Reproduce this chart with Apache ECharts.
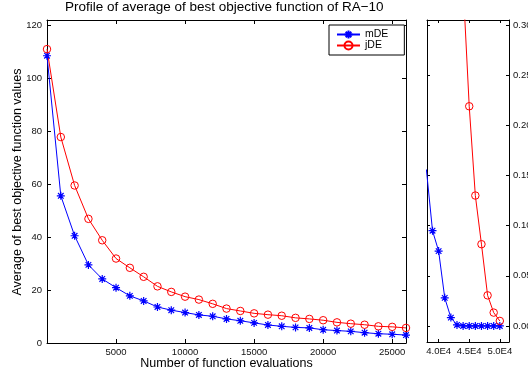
<!DOCTYPE html>
<html><head><meta charset="utf-8">
<script src="https://cdn.jsdelivr.net/npm/echarts@6/dist/echarts.min.js"></script>
<style>html,body{margin:0;padding:0;background:#fff}#c{width:528px;height:376px}</style>
</head><body><div id="c"></div>
<script>
const titleText = 'Profile of average of best objective function of RA\u221210';
const xName = 'Number of function evaluations';
const yName = 'Average of best objective function values';
const seriesNames = ['mDE', 'jDE'];

const leftEvals = [0, 1000, 2000, 3000, 4000, 5000, 6000, 7000, 8000, 9000, 10000, 11000, 12000, 13000,
  14000, 15000, 16000, 17000, 18000, 19000, 20000, 21000, 22000, 23000, 24000, 25000, 26000];
const mdeLeft = [108.5, 55.6, 40.5, 29.5, 24.2, 20.9, 17.8, 15.9, 13.6, 12.4, 11.5, 10.6, 10.1, 9.1,
  8.4, 7.6, 6.8, 6.3, 5.9, 5.7, 5.0, 4.7, 4.4, 3.9, 3.5, 3.3, 3.0];
const jdeLeft = [111, 77.8, 59.5, 46.9, 38.8, 31.9, 28.4, 25.0, 21.4, 19.3, 17.5, 16.4, 14.8, 13.0,
  12.1, 11.2, 10.7, 10.3, 9.5, 9.1, 8.6, 7.8, 7.3, 6.9, 6.3, 6.1, 5.7];

const rightEvals = [38000, 39000, 40000, 41000, 42000, 43000, 44000, 45000, 46000, 47000, 48000, 49000, 50000];
const mdeRight = [0.156, 0.095, 0.0746, 0.028, 0.0083, 0.001, 0, 0, 0, 0, 0, 0, 0];
const jdeRight = [null, null, null, null, null, null, 0.34, 0.219, 0.130, 0.0815, 0.0305, 0.0133, 0.005];

const leftXTicks = [5000, 10000, 15000, 20000, 25000];
const leftYTicks = [0, 20, 40, 60, 80, 100, 120];
const rightXTicks = [40000, 45000, 50000];
const rightYTicks = [0, 0.05, 0.10, 0.15, 0.20, 0.25, 0.30];

const FONT = 'Liberation Sans, Arial, sans-serif';
const starPath = 'path://M0,-10L0,10M-10,0L10,0M-7,-7L7,7M-7,7L7,-7';
const BLUE = '#0000ff', RED = '#ff0000';

function pairs(xs, ys) { return xs.map((x, i) => [x, ys[i]]); }

function axisBase(extra) {
  return Object.assign({
    type: 'value',
    splitLine: { show: false },
    axisLine: { show: true, onZero: false, lineStyle: { color: '#000', width: 1 } },
    axisTick: { show: true, inside: true, length: 4, lineStyle: { color: '#000', width: 1 } },
    axisLabel: { show: false },
  }, extra);
}
function ticks(vals, len) {
  return { show: true, inside: true, length: len, customValues: vals, lineStyle: { color: '#000', width: 1 } };
}
function labels(vals, fmt, margin) {
  return { show: true, customValues: vals, formatter: fmt, color: '#111', fontFamily: FONT, fontSize: 9.5, margin: margin };
}

const LX = [0, 26000], LY = [0, 122], RX = [38100, 51500], RY = [-0.016, 0.305];

const blueStyle = {
  symbol: starPath, symbolSize: 8, showAllSymbol: true, clip: true,
  lineStyle: { color: BLUE, width: 1 }, itemStyle: { color: BLUE, borderColor: BLUE, borderWidth: 1.2 }
};
const redStyle = {
  symbol: 'circle', symbolSize: 7.5, showAllSymbol: true, clip: true,
  lineStyle: { color: RED, width: 1 }, itemStyle: { color: 'rgba(255,0,0,0)', borderColor: RED, borderWidth: 1 }
};

const option = {
  animation: false,
  backgroundColor: '#fff',
  title: {
    text: titleText, left: 65, top: 0, padding: 0,
    textStyle: { fontFamily: FONT, fontSize: 13.5, fontWeight: 'normal', color: '#000' }
  },
  legend: {
    data: seriesNames,
    orient: 'vertical', left: 329, top: 25,
    padding: [4, 16, 4, 7], itemGap: 0, itemWidth: 23, itemHeight: 10,
    borderColor: '#000', borderWidth: 1, backgroundColor: '#fff',
    textStyle: { fontFamily: FONT, fontSize: 10.5, color: '#000', lineHeight: 10 }
  },
  grid: [
    { left: 47, right: 122, top: 20, bottom: 33, outerBoundsMode: 'none' },
    { left: 427, right: 19, top: 20, bottom: 34, outerBoundsMode: 'none' }
  ],
  xAxis: [
    axisBase({ gridIndex: 0, position: 'bottom', min: LX[0], max: LX[1],
      axisTick: ticks(leftXTicks, 4), axisLabel: labels(leftXTicks, v => String(v), 4) }),
    axisBase({ gridIndex: 0, position: 'top', min: LX[0], max: LX[1], axisTick: ticks(leftXTicks, 4) }),
    axisBase({ gridIndex: 1, position: 'bottom', min: RX[0], max: RX[1],
      axisTick: ticks(rightXTicks, 3), axisLabel: labels(rightXTicks, v => (v / 10000).toFixed(1) + 'E4', 4) }),
    axisBase({ gridIndex: 1, position: 'top', min: RX[0], max: RX[1], axisTick: ticks(rightXTicks, 3) })
  ],
  yAxis: [
    axisBase({ gridIndex: 0, position: 'left', min: LY[0], max: LY[1],
      axisTick: ticks(leftYTicks, 4), axisLabel: labels(leftYTicks, v => String(v), 5) }),
    axisBase({ gridIndex: 0, position: 'right', min: LY[0], max: LY[1], axisTick: ticks(leftYTicks, 4) }),
    axisBase({ gridIndex: 1, position: 'right', min: RY[0], max: RY[1],
      axisTick: ticks(rightYTicks, 3), axisLabel: labels(rightYTicks, v => v.toFixed(2), 4) }),
    axisBase({ gridIndex: 1, position: 'left', min: RY[0], max: RY[1], axisTick: ticks(rightYTicks, 3) })
  ],
  graphic: [
    { type: 'text', x: 226.5, y: 364, style: { text: xName, fontFamily: FONT, fontSize: 12.5, fill: '#000', align: 'center', verticalAlign: 'middle' } },
    { type: 'text', x: 18, y: 182, rotation: Math.PI / 2, style: { text: yName, fontFamily: FONT, fontSize: 12.5, fill: '#000', align: 'center', verticalAlign: 'middle' } }
  ],
  series: [
    Object.assign({ name: 'mDE', type: 'line', xAxisIndex: 0, yAxisIndex: 0, data: pairs(leftEvals, mdeLeft) }, blueStyle),
    Object.assign({ name: 'jDE', type: 'line', xAxisIndex: 0, yAxisIndex: 0, data: pairs(leftEvals, jdeLeft) }, redStyle),
    Object.assign({ name: 'mDE', type: 'line', xAxisIndex: 2, yAxisIndex: 2, data: pairs(rightEvals, mdeRight) }, blueStyle),
    Object.assign({ name: 'jDE', type: 'line', xAxisIndex: 2, yAxisIndex: 2, data: pairs(rightEvals, jdeRight) }, redStyle)
  ]
};

const chart = echarts.init(document.getElementById('c'), null, { renderer: 'canvas' });
chart.setOption(option);
</script>
</body></html>
